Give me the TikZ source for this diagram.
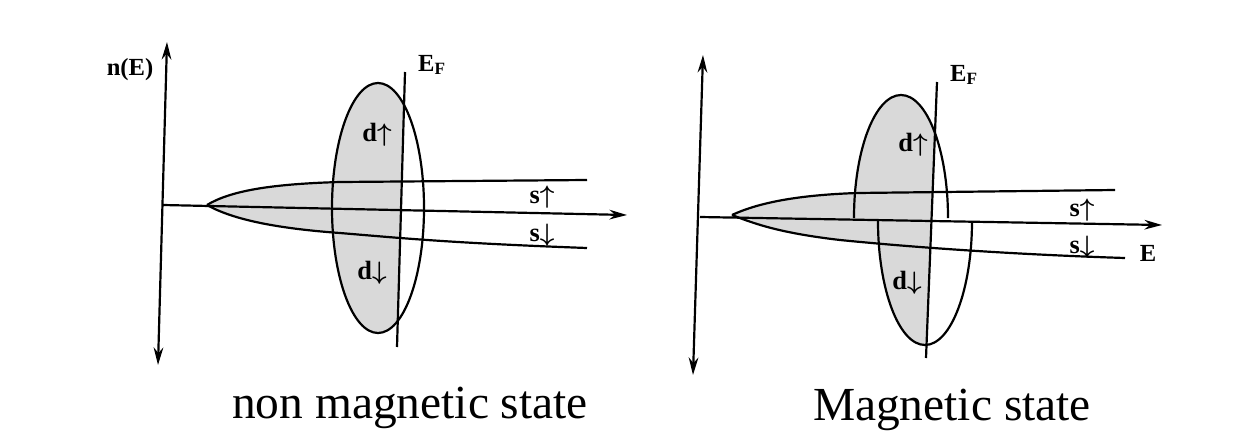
\documentclass[tikz,border=0pt]{standalone}
\usepackage{fontspec}
\setmainfont{Liberation Serif}
\usetikzlibrary{arrows.meta, positioning}

\newcommand{\spinup}{{\boldmath$\uparrow$}}
\newcommand{\spindn}{{\boldmath$\downarrow$}}

\begin{document}
\begin{tikzpicture}[
    x=0.02cm, y=-0.02cm,
    >={Stealth[length=10pt, width=5.5pt]},
    curve/.style={line width=1.25pt},
    axis/.style={line width=1.25pt, ->},
    dos/.style={fill=gray!30},
    lbl/.style={font=\bfseries\fontsize{15}{17}\selectfont, inner sep=1pt},
    axlbl/.style={font=\bfseries\fontsize{14}{16}\selectfont, inner sep=1pt},
    caption/.style={font=\fontsize{27}{32}\selectfont, inner sep=0pt, anchor=base}
]
\useasboundingbox (0,0) rectangle (1238,433);

% non magnetic state
\coordinate (cuspA) at (207,205);
\coordinate (efTopA) at (405,72);
\coordinate (efBotA) at (397,347);

\begin{scope}
    \clip (150,0) -- (407,0) -- (394.5,433) -- (150,433) -- cycle;
    \fill[dos] (378,208) ellipse [x radius=46, y radius=125];
    \fill[dos] (cuspA) .. controls (230,191) and (270,184) .. (340,182) -- (587,180)
        -- (587,248) .. controls (450,243) and (400,238) .. (340,233)
        .. controls (270,228) and (230,218) .. (cuspA) -- cycle;
\end{scope}

\draw[curve] (378,208) ellipse [x radius=46, y radius=125];
\draw[curve] (cuspA) .. controls (230,191) and (270,184) .. (340,182) -- (587,180);
\draw[curve] (cuspA) .. controls (230,218) and (270,228) .. (340,233)
    .. controls (400,238) and (450,243) .. (587,248);
\draw[curve] (efTopA) -- (efBotA);
\draw[axis] (163,205) -- (627,215);
\draw[axis, <->] (158,365) -- (167,42);

\node[axlbl] (nE) at (130,70) {n(E)};
\node[axlbl] (efA) at (432,65) {E\textsubscript{F}};
\node[lbl] (dupA) at (377,135) {d\spinup};
\node[lbl] (ddnA) at (372,273) {d\spindn};
\node[lbl] (supA) at (542,197) {s\spinup};
\node[lbl] (sdnA) at (542,235) {s\spindn};
\node[caption] (capA) at (410,418) {non magnetic state};

% magnetic state
\coordinate (cuspB) at (732,215);
\coordinate (efTopB) at (937,82);
\coordinate (efBotB) at (926,358);

\begin{scope}
    \clip (690,0) -- (940.3,0) -- (923,433) -- (690,433) -- cycle;
    \fill[dos] (854,218) arc[start angle=180, end angle=360, x radius=47, y radius=123] -- cycle;
    \fill[dos] (878,221) arc[start angle=180, end angle=0, x radius=47, y radius=124] -- cycle;
    \fill[dos] (cuspB) .. controls (760,202) and (800,195) .. (857,193) -- (1115,190)
        -- (1125,258) .. controls (1000,254) and (900,246) .. (840,240)
        .. controls (780,233) and (755,224) .. (cuspB) -- cycle;
\end{scope}

\draw[curve] (854,218) arc[start angle=180, end angle=360, x radius=47, y radius=123];
\draw[curve] (878,221) arc[start angle=180, end angle=0, x radius=47, y radius=124];
\draw[curve] (cuspB) .. controls (760,202) and (800,195) .. (857,193) -- (1115,190);
\draw[curve] (cuspB) .. controls (755,224) and (780,233) .. (840,240)
    .. controls (900,246) and (1000,254) .. (1125,258);
\draw[curve] (efTopB) -- (efBotB);
\draw[axis] (700,217) -- (1162,225);
\draw[axis, <->] (693,375) -- (703,55);

\node[axlbl] (efB) at (964,75) {E\textsubscript{F}};
\node[lbl] (dupB) at (913,145) {d\spinup};
\node[lbl] (ddnB) at (907,283) {d\spindn};
\node[lbl] (supB) at (1082,210) {s\spinup};
\node[lbl] (sdnB) at (1082,247) {s\spindn};
\node[axlbl] (eB) at (1148,253) {E};
\node[caption] (capB) at (952,420) {Magnetic state};

\end{tikzpicture}
\end{document}
